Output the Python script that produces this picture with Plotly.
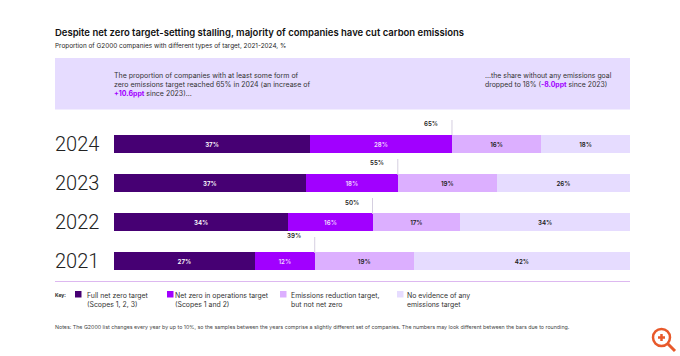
import plotly.graph_objects as go

W, H = 680, 356
years = ["2024", "2023", "2022", "2021"]
full_net_zero = [38.0, 37.2, 33.8, 27.3]
net_zero_ops = [27.5, 17.8, 16.3, 11.6]
reduction = [17.3, 19.2, 17.0, 19.2]
no_target = [17.2, 25.8, 32.9, 41.9]
labels_full = ["37%", "37%", "34%", "27%"]
labels_ops = ["28%", "18%", "16%", "12%"]
labels_red = ["16%", "19%", "17%", "19%"]
labels_none = ["18%", "26%", "34%", "42%"]
totals = ["65%", "55%", "50%", "39%"]
series_names = ["Full net zero target<br>(Scopes 1, 2, 3)", "Net zero in operations target<br>(Scopes 1 and 2)",
                "Emissions reduction target,<br>but not net zero", "No evidence of any<br>emissions target"]
colors = ["#460073", "#A100FF", "#DCAFFF", "#E6DCFF"]
text_colors = ["#FFFFFF", "#F0D8FF", "#222222", "#222222"]
FONT = "Inter"
INK = "#1F1F1F"

def px(x): return x / W
def py(y): return 1 - y / H

fig = go.Figure()
for vals, labs, name, c, tc in zip([full_net_zero, net_zero_ops, reduction, no_target],
                                   [labels_full, labels_ops, labels_red, labels_none],
                                   series_names, colors, text_colors):
    fig.add_trace(go.Bar(y=years, x=vals, name=name.replace("<br>", " "), orientation="h",
                         marker=dict(color=c, line=dict(width=0)), text=labs, textposition="inside",
                         insidetextanchor="middle", textangle=0, constraintext="none",
                         textfont=dict(family=FONT, size=6.2, color=tc, weight=600),
                         hoverinfo="skip", showlegend=False))

ann = []
def note(x, y, text, size=7.5, color=INK, anchor="left", weight=400):
    ann.append(dict(xref="paper", yref="paper", x=px(x), y=py(y), text=text, showarrow=False, xanchor=anchor,
                    yanchor="middle", align="left", borderpad=0,
                    font=dict(family=FONT, size=size, color=color, weight=weight)))

note(54, 32, "Despite net zero target-setting stalling, majority of companies have cut carbon emissions", size=9.5, color="#111111", weight=600)
note(54, 46, "Proportion of G2000 companies with different types of target, 2021-2024, %", size=6.4)
note(113, 84, 'The proportion of companies with at least some form of<br>zero emissions target reached 65% in 2024 (an increase of<br><b><span style="color:#A100FF">+10.6ppt</span></b> since 2023)...', size=7.0, color="#333333")
note(484, 80, '...the share without any emissions goal<br>dropped to 18% (<b><span style="color:#A100FF">-8.0ppt</span></b> since 2023)', size=6.9, color="#333333")
note(54, 294.5, "<b>Key:</b>", size=5, color=INK)
for (sx, tx), name in zip([(75, 86), (167, 174), (280, 290), (397, 406)], series_names):
    note(tx, 299.5, name, size=6.9, color="#333333")
note(54, 327, "Notes: The G2000 list changes every year by up to 10%, so the samples between the years comprise a slightly different set of companies. The numbers may look different between the bars due to rounding.", size=5.3, color="#444444")

shapes = [
    dict(type="rect", xref="paper", yref="paper", x0=px(55), x1=px(630), y0=py(58), y1=py(109.5),
         fillcolor="#E6DCFF", line=dict(width=0), layer="below"),
    dict(type="line", xref="paper", yref="paper", x0=px(55), x1=px(630), y0=py(281.5), y1=py(281.5),
         line=dict(color="#DDB8F0", width=1)),
]
for (sx, tx), c in zip([(75, 86), (167, 174), (280, 290), (397, 406)], colors):
    shapes.append(dict(type="rect", xref="paper", yref="paper", x0=px(sx), x1=px(sx + 6.5), y0=py(291), y1=py(297.5),
                       fillcolor=c, line=dict(width=0)))

for i, y in enumerate(years):
    cum = full_net_zero[i] + net_zero_ops[i]
    top = [120, 159, 198, 237][i]
    bar_top = [135, 175, 214, 253][i]
    shapes.append(dict(type="line", xref="x", yref="paper", x0=cum, x1=cum, y0=py(top), y1=py(bar_top),
                       line=dict(color="#D5CFE0", width=1)))
    ann.append(dict(xref="x", yref="paper", x=cum, y=py(top + 4), text=totals[i], showarrow=False, xanchor="right",
                    xshift=-12, font=dict(family=FONT, size=6.2, color=INK, weight=600)))
    # a numeric-looking string would be read as a position, so the category index is used
    ann.append(dict(xref="paper", yref="y", x=px(53), y=i, text=y, showarrow=False, xanchor="left",
                    font=dict(family="Roboto", size=20, color="#222222", weight=300)))

# zoom badge at the lower right of the reference picture
ORANGE = "#E8592B"
shapes += [
    dict(type="circle", xref="paper", yref="paper", x0=px(653), x1=px(670), y0=py(346), y1=py(329),
         line=dict(color=ORANGE, width=2.5)),
    dict(type="line", xref="paper", yref="paper", x0=px(668), x1=px(675), y0=py(344), y1=py(351),
         line=dict(color=ORANGE, width=3)),
    dict(type="line", xref="paper", yref="paper", x0=px(658), x1=px(665), y0=py(337.5), y1=py(337.5),
         line=dict(color=ORANGE, width=2.5)),
    dict(type="line", xref="paper", yref="paper", x0=px(661.5), x1=px(661.5), y0=py(334), y1=py(341),
         line=dict(color=ORANGE, width=2.5)),
]

fig.update_layout(
    width=W, height=H, barmode="stack", bargap=0.55, paper_bgcolor="white", plot_bgcolor="rgba(0,0,0,0)",
    margin=dict(l=0, r=0, t=0, b=0), showlegend=False, annotations=ann, shapes=shapes,
    xaxis=dict(domain=[px(114), px(630)], range=[0, 100], visible=False, fixedrange=True),
    yaxis=dict(domain=[py(280.5), py(124.5)], type="category", categoryorder="array", categoryarray=years,
               range=[3.5, -0.5], showticklabels=False, showgrid=False, zeroline=False, fixedrange=True),
)
fig.write_html("out.html", config=dict(displayModeBar=False),
               post_script="document.body.style.margin='0';document.documentElement.style.overflow='hidden';")
